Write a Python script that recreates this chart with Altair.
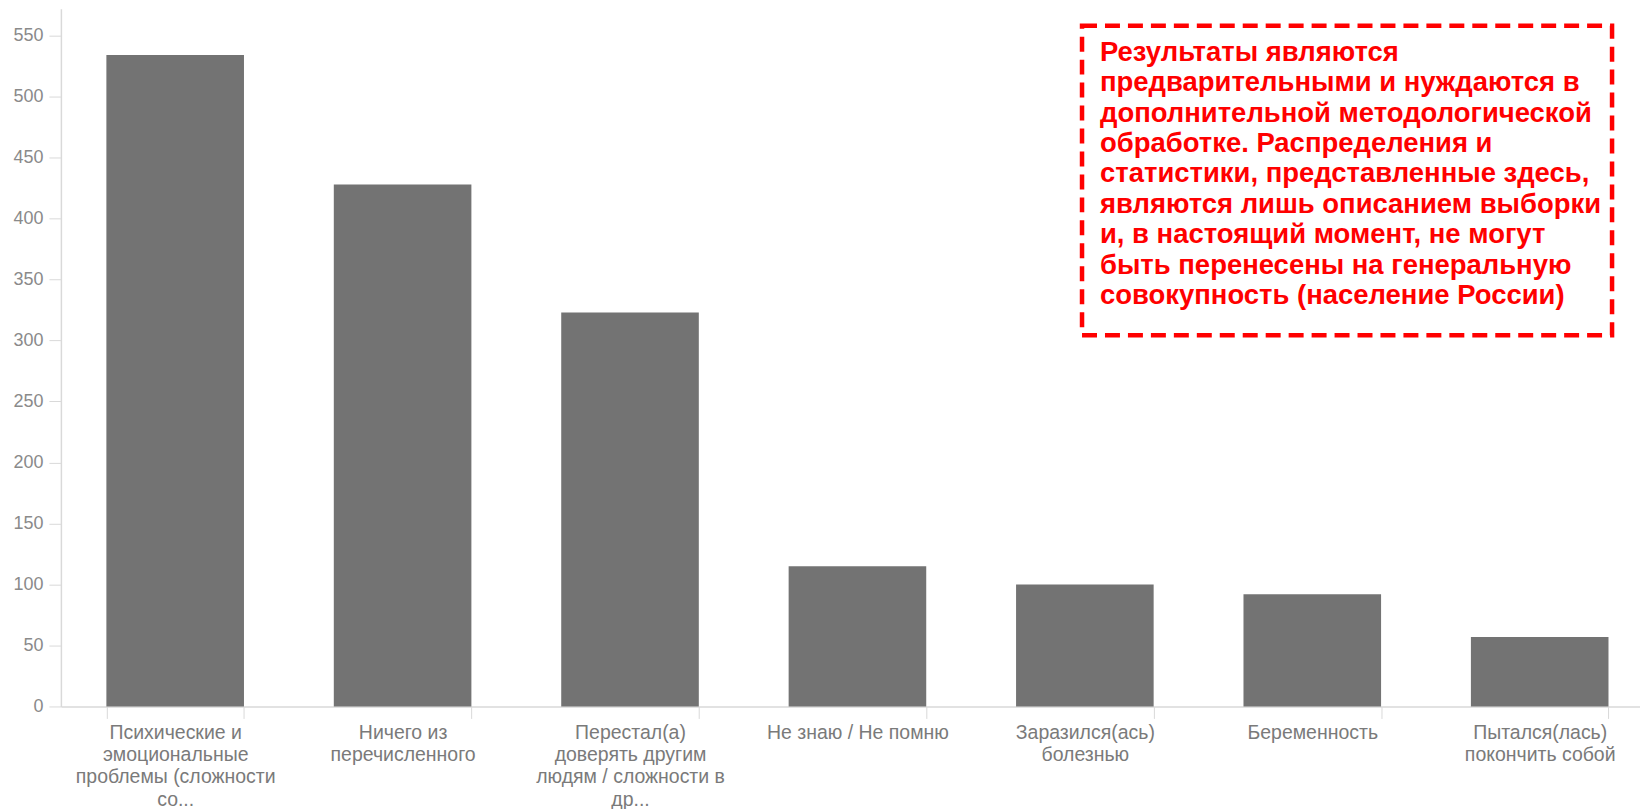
import altair as alt
import pandas as pd

categories = [
    "Психические и|эмоциональные|проблемы (сложности|со...",
    "Ничего из|перечисленного",
    "Перестал(а)|доверять другим|людям / сложности в|др...",
    "Не знаю / Не помню",
    "Заразился(ась)|болезнью",
    "Беременность",
    "Пытался(лась)|покончить собой",
]
values = [534, 428, 323, 115, 100, 92, 57]
y_ticks = [0, 50, 100, 150, 200, 250, 300, 350, 400, 450, 500, 550]
note_lines = [
    "Результаты являются",
    "предварительными и нуждаются в",
    "дополнительной методологической",
    "обработке. Распределения и",
    "статистики, представленные здесь,",
    "являются лишь описанием выборки",
    "и, в настоящий момент, не могут",
    "быть перенесены на генеральную",
    "совокупность (население России)",
]

df = pd.DataFrame({"cat": categories, "val": values})
note_df = pd.DataFrame({"note": ["\n".join(note_lines)]})

bars = alt.Chart(df).mark_bar(color="#737373").encode(
    x=alt.X(
        "cat:N",
        sort=categories,
        scale=alt.Scale(paddingInner=0.395, paddingOuter=0.2),
        axis=alt.Axis(
            title=None,
            labelAngle=0,
            labelExpr="split(datum.label, '|')",
            labelFontSize=19.5,
            labelFont="Liberation Sans",
            labelColor="#7a7a7a",
            labelLineHeight=22.3,
            labelLimit=400,
            tickBand="extent",
            tickSize=12,
            tickColor="#d9d9d9",
            domainColor="#d9d9d9",
            domainWidth=1.5,
            labelPadding=5,
        ),
    ),
    y=alt.Y(
        "val:Q",
        scale=alt.Scale(domain=[0, 572], nice=False),
        axis=alt.Axis(
            title=None,
            values=y_ticks,
            grid=False,
            labelFontSize=18,
            labelFont="Liberation Sans",
            labelColor="#8a8a8a",
            tickColor="#d9d9d9",
            domainColor="#d9d9d9",
            domainWidth=1.5,
            tickSize=12,
            labelPadding=6,
        ),
    ),
)

box = alt.Chart(note_df).mark_rect(
    fill="transparent", stroke="#ff0000", strokeWidth=4.5, strokeDash=[15, 8]
).encode(
    x=alt.value(1023), x2=alt.value(1554), y=alt.value(17), y2=alt.value(327)
)

text = alt.Chart(note_df).mark_text(
    align="left",
    baseline="alphabetic",
    font="Liberation Sans",
    fontSize=27.5,
    fontWeight="bold",
    color="#ff0000",
    lineBreak="\n",
    lineHeight=30.5,
).encode(x=alt.value(1041), y=alt.value(52), text="note:N")

chart = (
    alt.layer(bars, box, text)
    .properties(
        width=1596,
        height=699,
        autosize=alt.AutoSizeParams(type="none"),
        padding={"left": 53, "top": 0, "right": -14, "bottom": 102},
    )
    .configure_view(stroke=None)
)

chart.save("out.html", embed_options={"renderer": "svg", "actions": False})
